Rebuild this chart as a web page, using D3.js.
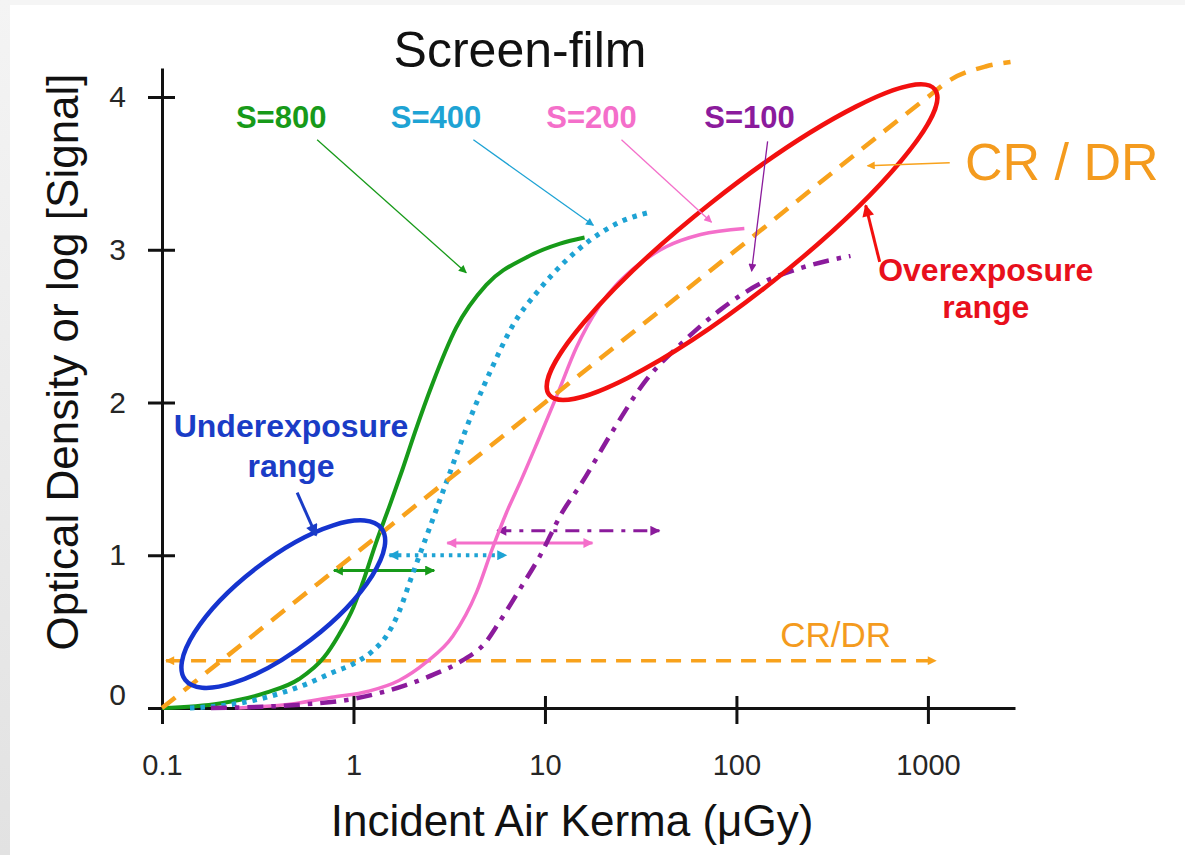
<!DOCTYPE html>
<html>
<head>
<meta charset="utf-8">
<script src="https://cdn.jsdelivr.net/npm/d3@7"></script>
<style>
  body { margin: 0; background: #fff; }
  svg { display: block; }
  text { font-family: Arial, "Liberation Sans", sans-serif; }
</style>
</head>
<body>
<svg id="chart" width="1185" height="855"></svg>
<script>
// ---- Axis ticks -------------------------------------------------------
const xTickValues = [0.1, 1, 10, 100, 1000];
const xTickLabels = ["0.1", "1", "10", "100", "1000"];
const yTickValues = [0, 1, 2, 3, 4];
const yTickLabels = ["0", "1", "2", "3", "4"];

// ---- Characteristic curves: [air kerma (µGy), optical density] ---------
const s800Curve = [[0.1,0],[0.2,0.03],[0.35,0.10],[0.52,0.19],[0.7,0.33],[0.84,0.48],[1.0,0.66],
  [1.11,0.81],[1.31,1.08],[1.55,1.33],[1.8,1.56],[2.1,1.81],[2.58,2.12],[3.44,2.49],[4.94,2.77],
  [8.0,2.95],[12,3.04],[16.1,3.08]];
const s400Curve = [[0.14,0],[0.25,0.03],[0.35,0.07],[0.55,0.15],[0.77,0.23],[1.0,0.29],[1.25,0.37],
  [1.5,0.48],[1.73,0.63],[2.0,0.85],[2.4,1.12],[3.0,1.45],[4.17,1.93],[5.3,2.23],[6.76,2.50],
  [9.35,2.74],[12.9,2.93],[17.1,3.06],[24.5,3.18],[36.4,3.25]];
const s200Curve = [[0.25,0],[0.5,0.03],[0.77,0.07],[1.2,0.11],[1.73,0.18],[2.4,0.30],[3.3,0.47],
  [4.4,0.76],[5.3,1.04],[6.3,1.28],[7.5,1.49],[9.2,1.75],[11.5,2.04],[14.6,2.36],[19.2,2.63],
  [28.6,2.87],[43,3.02],[65,3.10],[110,3.14]];
const s100Curve = [[0.18,0],[0.5,0.02],[1.0,0.06],[1.88,0.15],[2.63,0.22],[3.69,0.31],[4.9,0.43],
  [5.76,0.56],[7.33,0.77],[9.36,0.99],[12.3,1.28],[15.5,1.47],[22.5,1.81],[33.9,2.15],[51,2.38],
  [83,2.61],[134,2.78],[216,2.88],[394,2.96]];
// Digital detector (CR/DR) response: linear in log exposure
const crdrCurve = [[0.1,0],[1,1],[10,2],[100,3],[1000,4],[1300,4.11],[2000,4.2],[2700,4.23]];
// CR/DR usable exposure span
const crdrRangeLevel = 0.31;
const crdrRange = [0.105, 1100];

// ---- Exposure latitude of each screen-film speed ---------------------------
const latitudeLevel = [0.90, 1.00, 1.08, 1.16];
const latitudeLow   = [0.79, 1.54, 3.09, 5.64];
const latitudeHigh  = [2.64, 6.28, 17.7, 39.6];

// ---- Speed classes -----------------------------------------------------
const speedNames = ["S=800", "S=400", "S=200", "S=100"];
const speedLabelX = [0.419, 2.70, 17.5, 117];   // label anchor (µGy)
const speedLabelY = 3.87;
const speedLeaderFrom = [[0.646,3.72],[4.23,3.72],[25.1,3.72],[145.5,3.71]];
const speedLeaderTo   = [[3.88,2.85],[17.9,3.16],[74.1,3.18],[120,2.86]];

// ---- Colours and line styles -------------------------------------------
const speedColors = ["#179a19", "#1ea3d4", "#f46fca", "#8b1b9c"];
const speedDash   = [null, "4.5,6", null, "16,8,4.5,8"];
const speedWidth  = [4, 5, 3.5, 4.5];
const orange = "#f8a21c";
const red = "#f2100f";
const blue = "#1534cf";

const svg = d3.select("#chart");

// backdrop
const defs = svg.append("defs");
const grad = defs.append("linearGradient").attr("id", "edge").attr("x1", 0).attr("y1", 0).attr("x2", 0).attr("y2", 1);
grad.append("stop").attr("offset", "0%").attr("stop-color", "#f4f4f4");
grad.append("stop").attr("offset", "100%").attr("stop-color", "#e2e2e2");
svg.append("rect").attr("width", 1185).attr("height", 855).attr("fill", "#f5f5f5");
svg.append("rect").attr("width", 10).attr("height", 855).attr("fill", "url(#edge)");
svg.append("rect").attr("x", 10).attr("y", 5).attr("width", 1175).attr("height", 850).attr("fill", "#fff");

// scales
const x = d3.scaleLog().domain([0.1, 2850]).range([162, 1015]);
const y = d3.scaleLinear().domain([0, 4.19]).range([708, 68]);

// arrow markers
function marker(id, color, len, wid) {
  defs.append("marker")
    .attr("id", id)
    .attr("viewBox", "0 -5 10 10")
    .attr("refX", 9).attr("refY", 0)
    .attr("markerUnits", "userSpaceOnUse")
    .attr("markerWidth", len).attr("markerHeight", wid)
    .attr("orient", "auto-start-reverse")
    .append("path").attr("d", "M0,-5L10,0L0,5Z").attr("fill", color);
  return `url(#${id})`;
}

// axes
const gx = svg.append("g")
  .attr("transform", `translate(0,${y(0)})`)
  .call(d3.axisBottom(x).tickValues(xTickValues)
    .tickFormat((d, i) => xTickLabels[i])
    .tickSizeInner(16).tickSizeOuter(0).tickPadding(30));
gx.attr("font-family", "Arial, 'Liberation Sans', sans-serif").attr("font-size", 29);
gx.select(".domain").attr("stroke", "#111").attr("stroke-width", 3);
gx.selectAll(".tick line").attr("y1", -12).attr("stroke", "#111").attr("stroke-width", 3);
gx.selectAll(".tick text").attr("fill", "#262626");

const gy = svg.append("g")
  .attr("transform", `translate(${x(0.1)},0)`)
  .call(d3.axisLeft(y).tickValues(yTickValues)
    .tickFormat((d, i) => yTickLabels[i])
    .tickSizeInner(14).tickSizeOuter(0).tickPadding(22));
gy.attr("font-family", "Arial, 'Liberation Sans', sans-serif").attr("font-size", 30);
gy.select(".domain").attr("stroke", "#111").attr("stroke-width", 3);
gy.selectAll(".tick line").attr("x1", 13).attr("stroke", "#111").attr("stroke-width", 3);
gy.selectAll(".tick text").attr("fill", "#262626")
  .attr("transform", d => d === 0 ? "translate(0,-13)" : null);

// axis titles and chart title
svg.append("text").attr("x", 520).attr("y", 67).attr("text-anchor", "middle")
  .attr("font-size", 50).attr("fill", "#111").text("Screen-film");
svg.append("text").attr("x", 572).attr("y", 836).attr("text-anchor", "middle")
  .attr("font-size", 44).attr("fill", "#111").text("Incident Air Kerma (\u03bcGy)");
svg.append("text").attr("transform", "translate(78,362) rotate(-90)").attr("text-anchor", "middle")
  .attr("font-size", 44).attr("fill", "#111").text("Optical Density or log [Signal]");

const line = d3.line().x(d => x(d[0])).y(d => y(d[1])).curve(d3.curveMonotoneX);

// CR/DR usable range (horizontal)
const mOrange = marker("mOrange", orange, 12, 9);
svg.append("line")
  .attr("x1", x(crdrRange[0])).attr("x2", x(crdrRange[1]))
  .attr("y1", y(crdrRangeLevel)).attr("y2", y(crdrRangeLevel))
  .attr("stroke", orange).attr("stroke-width", 3.5).attr("stroke-dasharray", "15,10")
  .attr("marker-start", mOrange).attr("marker-end", mOrange);

// latitude double arrows
speedNames.forEach((name, i) => {
  const m = marker("lat" + i, speedColors[i], 12, 10);
  svg.append("line")
    .attr("x1", x(latitudeLow[i])).attr("x2", x(latitudeHigh[i]))
    .attr("y1", y(latitudeLevel[i])).attr("y2", y(latitudeLevel[i]))
    .attr("stroke", speedColors[i]).attr("stroke-width", i === 1 ? 4 : 3)
    .attr("stroke-dasharray", i === 1 ? "3.5,5" : (i === 3 ? "14,8,4,8" : null))
    .attr("marker-start", m).attr("marker-end", m);
});

// characteristic curves
const curves = [s800Curve, s400Curve, s200Curve, s100Curve];
curves.forEach((c, i) => {
  svg.append("path").datum(c).attr("d", line)
    .attr("fill", "none").attr("stroke", speedColors[i])
    .attr("stroke-width", speedWidth[i])
    .attr("stroke-dasharray", speedDash[i]);
});
svg.append("path").datum(crdrCurve).attr("d", line)
  .attr("fill", "none").attr("stroke", orange).attr("stroke-width", 4.5)
  .attr("stroke-dasharray", "17,11");

// exposure range ellipses (centre in data units, radii in pixels)
function rangeEllipse(cx, cy, rx, ry, angle, color) {
  svg.append("ellipse")
    .attr("transform", `translate(${x(cx)},${y(cy)}) rotate(${angle})`)
    .attr("rx", rx).attr("ry", ry)
    .attr("fill", "none").attr("stroke", color).attr("stroke-width", 4.5);
}
rangeEllipse(0.43, 0.68, 124, 45, -37.7, blue);
rangeEllipse(107, 3.05, 246, 50, -38.4, red);

// speed labels with leader arrows
speedNames.forEach((name, i) => {
  svg.append("text").attr("x", x(speedLabelX[i])).attr("y", y(speedLabelY))
    .attr("dy", "0.36em").attr("text-anchor", "middle")
    .attr("font-size", 31).attr("font-weight", "bold").attr("fill", speedColors[i]).text(name);
  const m = marker("lead" + i, speedColors[i], 11, 8);
  svg.append("line")
    .attr("x1", x(speedLeaderFrom[i][0])).attr("y1", y(speedLeaderFrom[i][1]))
    .attr("x2", x(speedLeaderTo[i][0])).attr("y2", y(speedLeaderTo[i][1]))
    .attr("stroke", speedColors[i]).attr("stroke-width", 1.3).attr("marker-end", m);
});

// CR / DR callout
svg.append("text").attr("x", x(5000)).attr("y", y(3.58)).attr("dy", "0.36em")
  .attr("text-anchor", "middle").attr("font-size", 52).attr("fill", "#f49b1e").text("CR / DR");
svg.append("line")
  .attr("x1", x(1300)).attr("y1", y(3.57)).attr("x2", x(484)).attr("y2", y(3.55))
  .attr("stroke", orange).attr("stroke-width", 1.5).attr("marker-end", marker("mCr", orange, 11, 8));
svg.append("text").attr("x", x(330)).attr("y", y(0.48)).attr("dy", "0.36em")
  .attr("text-anchor", "middle").attr("font-size", 35).attr("fill", "#f49b1e").text("CR/DR");

// overexposure callout
const over = svg.append("text").attr("text-anchor", "middle").attr("font-size", 32)
  .attr("font-weight", "bold").attr("fill", "#e8101c");
over.append("tspan").attr("x", x(2005)).attr("y", y(2.87)).attr("dy", "0.36em").text("Overexposure");
over.append("tspan").attr("x", x(2005)).attr("y", y(2.63)).attr("dy", "0.36em").text("range");
svg.append("line")
  .attr("x1", x(560)).attr("y1", y(2.92)).attr("x2", x(473)).attr("y2", y(3.29))
  .attr("stroke", red).attr("stroke-width", 3).attr("marker-end", marker("mRed", red, 15, 12));

// underexposure callout
const under = svg.append("text").attr("text-anchor", "middle").attr("font-size", 32)
  .attr("font-weight", "bold").attr("fill", "#1a3cc6");
under.append("tspan").attr("x", x(0.472)).attr("y", y(1.85)).attr("dy", "0.36em").text("Underexposure");
under.append("tspan").attr("x", x(0.472)).attr("y", y(1.59)).attr("dy", "0.36em").text("range");
svg.append("line")
  .attr("x1", x(0.508)).attr("y1", y(1.41)).attr("x2", x(0.638)).attr("y2", y(1.13))
  .attr("stroke", "#1a3cc6").attr("stroke-width", 3).attr("marker-end", marker("mBlue", "#1a3cc6", 15, 12));
</script>
</body>
</html>
